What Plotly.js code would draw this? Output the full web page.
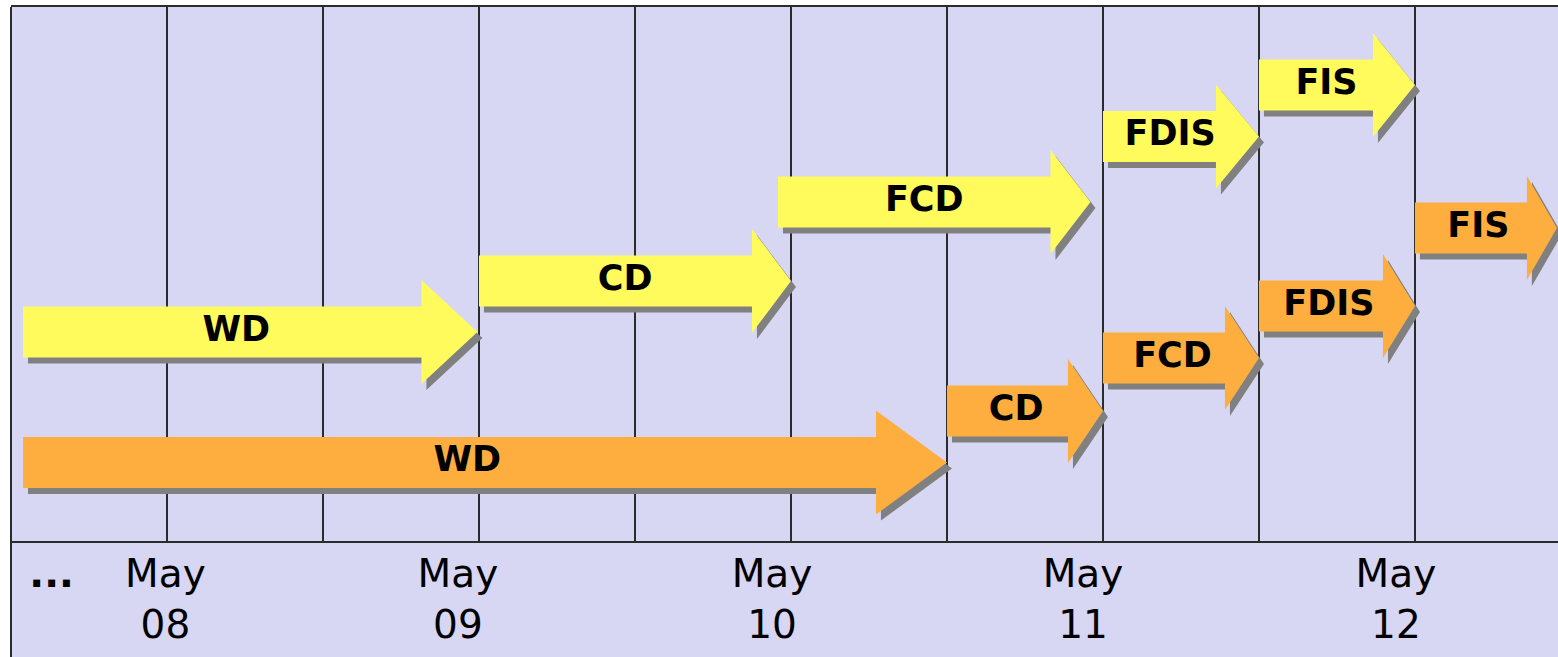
<!DOCTYPE html>
<html>
<head>
<meta charset="utf-8">
<script src="https://cdn.plot.ly/plotly-3.0.1.min.js"></script>
<style>html,body{margin:0;padding:0;background:#fff;}#chart{width:1558px;height:657px;}</style>
</head>
<body>
<div id="chart"></div>
<script>
// ---- data (x in half-year steps since Nov 2007; y = row level) ----
var stageNames  = ["WD", "CD", "FCD", "FDIS", "FIS", "WD", "CD", "FCD", "FDIS", "FIS"];
var stageTrack  = ["A", "A", "A", "A", "A", "B", "B", "B", "B", "B"];
var stageStart  = [0.077, 3.0, 4.917, 7.0, 8.0, 0.077, 6.0, 7.0, 8.0, 9.0];
var stageEnd    = [2.99, 5.0, 6.92, 8.0, 9.0, 6.0, 7.0, 8.0, 9.0, 9.91];
var stageLevel  = [3.914, 4.869, 6.348, 7.575, 8.54, 1.47, 2.434, 3.427, 4.401, 5.861];
var tickPos     = [0.26, 0.99, 2.865, 4.878, 6.872, 8.878];
var tickLabels  = ["<b>...</b><br> ", "May<br>08", "May<br>09", "May<br>10", "May<br>11", "May<br>12"];
var gridPos     = [1, 2, 3, 4, 5, 6, 7, 8, 9];

// ---- styles ----
var trackColor = {A: "#fffb5c", B: "#feae3e"};
var headLenPx  = [56, 39, 40, 43, 42, 71, 35, 34, 32, 30];
var bg = "rgb(215,214,243)";
var W = 1558, H = 657, mL = 11, mR = 0, mT = 7, mB = 116;
var xMax = 9.917, yMax = 10;
var pxX = (W - mL - mR) / xMax, pxY = (H - mT - mB) / yMax;
var bodyHalf = 25.5 / pxY, headHalf = 52 / pxY;
var shX = 5 / pxX, shY = 6 / pxY;
var FONT = "DejaVu Sans, Verdana, sans-serif";

function arrowPoly(s, e, c, hl, dx, dy) {
  var h = e - hl;
  var xs = [s, h, h, e, h, h, s, s];
  var ys = [c + bodyHalf, c + bodyHalf, c + headHalf, c, c - headHalf, c - bodyHalf, c - bodyHalf, c + bodyHalf];
  return {x: xs.map(function (v) { return v + dx; }), y: ys.map(function (v) { return v + dy; })};
}

var traces = [];
for (var i = 0; i < stageNames.length; i++) {
  var hl = headLenPx[i] / pxX;
  var sh = arrowPoly(stageStart[i], stageEnd[i], stageLevel[i], hl, shX, -shY);
  traces.push({type: "scatter", mode: "lines", x: sh.x, y: sh.y, fill: "toself",
    fillcolor: "#808080", line: {width: 0, color: "#808080"}, hoverinfo: "skip", showlegend: false});
  var ar = arrowPoly(stageStart[i], stageEnd[i], stageLevel[i], hl, 0, 0);
  traces.push({type: "scatter", mode: "lines", x: ar.x, y: ar.y, fill: "toself",
    fillcolor: trackColor[stageTrack[i]], line: {width: 0, color: trackColor[stageTrack[i]]},
    hoverinfo: "skip", showlegend: false});
}
var tx = [], ty = [];
for (var j = 0; j < stageNames.length; j++) {
  tx.push((stageStart[j] + stageEnd[j] - headLenPx[j] / pxX / 2) / 2);
  ty.push(stageLevel[j]);
}
traces.push({type: "scatter", mode: "text", x: tx, y: ty, text: stageNames,
  textposition: "middle center", textfont: {family: FONT, size: 35, color: "#000", weight: "bold"},
  hoverinfo: "skip", showlegend: false});
// dummy trace for x2 axis
traces.push({type: "scatter", mode: "markers", x: [0], y: [0], xaxis: "x2", yaxis: "y",
  marker: {opacity: 0}, hoverinfo: "skip", showlegend: false});

var yb = -mB / (H - mT - mB);
var layout = {
  width: W, height: H,
  margin: {l: mL, r: mR, t: mT, b: mB, pad: 0},
  paper_bgcolor: "#ffffff", plot_bgcolor: bg,
  showlegend: false,
  xaxis: {range: [0, xMax], tickvals: gridPos, showticklabels: false, ticks: "",
    showgrid: true, gridcolor: "#2b2b2b", gridwidth: 1.5, zeroline: false,
    showline: true, linecolor: "#2b2b2b", linewidth: 2, mirror: true, fixedrange: true},
  xaxis2: {range: [0, xMax], overlaying: "x", anchor: "y", side: "bottom",
    tickvals: tickPos, ticktext: tickLabels, ticks: "", showgrid: false, zeroline: false,
    showline: false, ticklabelstandoff: 6,
    tickfont: {family: FONT, size: 39, color: "#000"}, fixedrange: true},
  yaxis: {range: [0, yMax], showgrid: false, zeroline: false, showticklabels: false,
    ticks: "", showline: false, fixedrange: true},
  shapes: [
    {type: "rect", xref: "paper", yref: "paper", x0: 0, x1: 1, y0: yb, y1: 0,
      fillcolor: bg, line: {width: 0}, layer: "below"},
    {type: "line", xref: "paper", yref: "paper", x0: 0, x1: 0, y0: yb, y1: 1,
      line: {color: "#2b2b2b", width: 2}}
  ]
};
Plotly.newPlot("chart", traces, layout, {displayModeBar: false, staticPlot: true});
</script>
</body>
</html>
